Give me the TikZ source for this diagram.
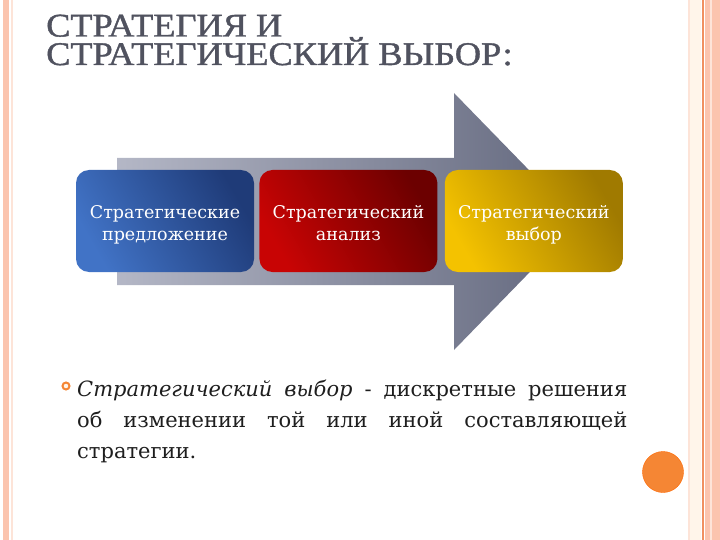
\documentclass[tikz,border=0pt]{standalone}
\usepackage{fontspec}
\setmainfont{Liberation Serif}
\newfontfamily\boxfont{DejaVu Serif}
\newfontfamily\titlefont[FakeBold=1.2,FakeStretch=1.1]{Liberation Serif}
\usetikzlibrary{positioning}
\definecolor{titlegray}{HTML}{50525F}
\definecolor{bodyblack}{HTML}{1E1E1E}
\definecolor{framepink}{HTML}{FBC4AE}
\definecolor{framelight}{HTML}{FDE4D8}
\definecolor{framecream}{HTML}{FFF5EA}
\definecolor{frameorange}{HTML}{F09060}
\definecolor{dotorange}{HTML}{F58634}
\definecolor{arrowlight}{HTML}{B4B7C6}
\definecolor{arrowdark}{HTML}{62677D}
\definecolor{bluelight}{HTML}{4173C6}
\definecolor{bluedark}{HTML}{1F3B78}
\definecolor{redlight}{HTML}{C80404}
\definecolor{reddark}{HTML}{6C0000}
\definecolor{goldlight}{HTML}{F4C200}
\definecolor{golddark}{HTML}{A07A00}
\tikzstyle{stage}=[rounded corners=13pt,minimum width=178pt,minimum height=102pt,text width=176pt,align=center,text=white,inner sep=0pt,font=\boxfont\fontsize{17.5}{22.5}\selectfont]
\tikzstyle{bluestage}=[stage,left color=bluelight,right color=bluedark,shading angle=120]
\tikzstyle{redstage}=[stage,left color=redlight,right color=reddark,shading angle=120]
\tikzstyle{goldstage}=[stage,left color=goldlight,right color=golddark,shading angle=120]
\tikzstyle{titletext}=[anchor=base west,align=left,inner sep=0pt,text=titlegray,font=\titlefont\fontsize{33}{28.5}\selectfont]
\tikzstyle{bodytext}=[anchor=north west,text width=550pt,align=justify,inner sep=0pt,text=bodyblack,font=\boxfont\fontsize{21}{31}\selectfont]
\newcommand{\topstrut}{\rule{0pt}{23.5pt}}

\begin{document}
\begin{tikzpicture}[x=1pt,y=-1pt]
  \useasboundingbox (0,0) rectangle (720,540);
  % frame
  \fill[framepink] (3,0) rectangle (9,540);
  \fill[framelight] (11,0) rectangle (13,540);
  \fill[framelight] (688,0) rectangle (690,540);
  \fill[framecream] (690,0) rectangle (701,540);
  \fill[frameorange] (702,0) rectangle (703.5,540);
  \fill[framepink] (705,0) rectangle (720,540);
  \fill[framelight] (710,0) rectangle (712,540);
  \fill[dotorange,draw=orange!80!red] (663,472) circle (20.5);

  % title
  \node[titletext] (title) at (46,65) {СТРАТЕГИЯ И\\СТРАТЕГИЧЕСКИЙ ВЫБОР:};

  % big arrow
  \coordinate (tip) at (579,221.5);
  \shade[left color=arrowlight,right color=arrowdark]
    (117,158) -- (454,158) -- (454,93) -- (tip) -- (454,350) -- (454,285) -- (117,285) -- cycle;

  % stages
  \node[bluestage] (offer) at (165,221) {\topstrut Стратегические\\предложение\strut};
  \node[redstage] (analysis) [right=5pt of offer] {\topstrut Стратегический\\анализ\strut};
  \node[goldstage] (choice) [right=7pt of analysis] {\topstrut Стратегический\\выбор\strut};

  % bullet
  \draw[dotorange,line width=2pt,fill=framecream] (66,386) circle (3.5);
  \node[bodytext] (def) at (77,380) {\textit{Стратегический выбор} - дискретные решения\linebreak об изменении той или иной составляющей\linebreak стратегии.};
\end{tikzpicture}
\end{document}
